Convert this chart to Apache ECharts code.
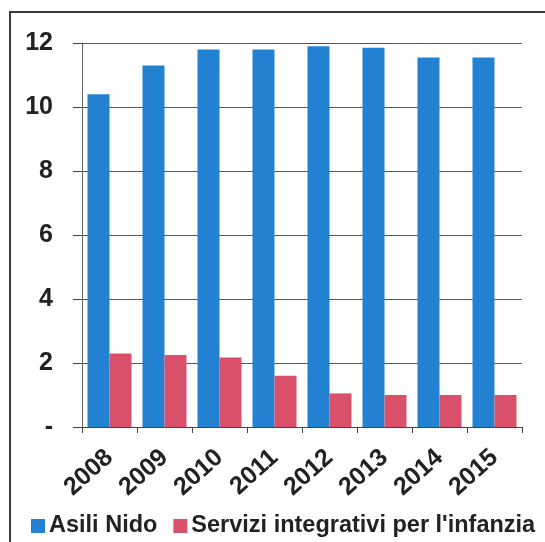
<!DOCTYPE html>
<html>
<head>
<meta charset="utf-8">
<script src="https://cdn.jsdelivr.net/npm/echarts@6/dist/echarts.min.js"></script>
<style>
html,body{margin:0;padding:0;background:#fff;}
#chart{width:545px;height:542px;}
</style>
</head>
<body>
<div id="chart"></div>
<script>
var categories = ['2008','2009','2010','2011','2012','2013','2014','2015'];
var asiliNido = [10.4, 11.3, 11.8, 11.8, 11.9, 11.85, 11.55, 11.55];
var serviziIntegrativi = [2.3, 2.25, 2.17, 1.6, 1.05, 1.0, 1.0, 1.0];
var seriesNames = ['Asili Nido', "Servizi integrativi per l'infanzia"];

var FONT = '"Liberation Sans", Arial, sans-serif';
var chart = echarts.init(document.getElementById('chart'));
chart.setOption({
  animation: false,
  backgroundColor: '#fff',
  graphic: [{
    type: 'rect',
    shape: {x: 10, y: 12, width: 560, height: 560},
    style: {fill: 'none', stroke: '#3a3a3a', lineWidth: 2},
    silent: true
  }],
  grid: {left: 82, right: 23, top: 43, bottom: 115, containLabel: false},
  legend: {
    data: seriesNames,
    left: 31, top: 514, width: 700, padding: 0,
    itemWidth: 14, itemHeight: 14, itemGap: 16,
    icon: 'rect',
    textStyle: {fontFamily: FONT, fontWeight: 'bold', fontSize: 23.5, color: '#222', padding: [0,0,0,-1]}
  },
  xAxis: {
    type: 'category',
    data: categories,
    axisLine: {lineStyle: {color: '#444', width: 1}},
    axisTick: {show: true, length: 6, lineStyle: {color: '#444'}},
    axisLabel: {rotate: 42, margin: 27, fontFamily: FONT, fontWeight: 'bold', fontSize: 25, color: '#222'}
  },
  yAxis: {
    type: 'value',
    min: 0, max: 12, interval: 2,
    axisLine: {show: true, lineStyle: {color: '#666', width: 1}},
    axisTick: {show: true, length: 9, lineStyle: {color: '#444'}},
    splitLine: {lineStyle: {color: '#555', width: 1}},
    axisLabel: {
      margin: 29,
      fontFamily: FONT, fontWeight: 'bold', fontSize: 25, color: '#222',
      formatter: function(v){ return v === 0 ? '-' : String(v); }
    }
  },
  series: [
    {name: seriesNames[0], type: 'bar', data: asiliNido, barGap: '0%', barCategoryGap: '20%',
     itemStyle: {color: '#2381d1'}},
    {name: seriesNames[1], type: 'bar', data: serviziIntegrativi,
     itemStyle: {color: '#d9506b'}}
  ]
});
</script>
</body>
</html>
